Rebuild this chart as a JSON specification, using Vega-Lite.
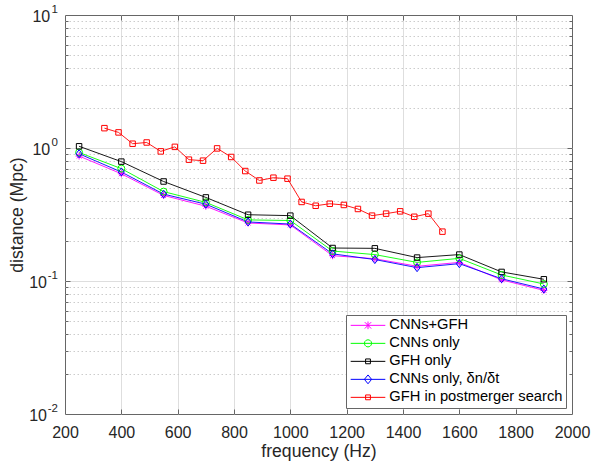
{
  "$schema": "https://vega.github.io/schema/vega-lite/v6.json",
  "width": 507,
  "height": 399,
  "autosize": {"type": "none"},
  "padding": {"left": 65, "top": 15, "right": 20, "bottom": 50},
  "background": "white",
  "config": {
    "font": "Liberation Sans",
    "view": {"stroke": "#666666", "strokeWidth": 1},
    "axis": {"labelFont": "Liberation Sans", "titleFont": "Liberation Sans", "labelColor": "#262626", "titleColor": "#262626", "labelFlush": false, "labelOverlap": false, "domain": false, "tickColor": "#666666", "tickWidth": 1}
  },
  "data": {
    "values": [
      {"series": "CNNs+GFH", "f": 250, "d": 0.87},
      {"series": "CNNs+GFH", "f": 400, "d": 0.64},
      {"series": "CNNs+GFH", "f": 550, "d": 0.44},
      {"series": "CNNs+GFH", "f": 700, "d": 0.365},
      {"series": "CNNs+GFH", "f": 850, "d": 0.273},
      {"series": "CNNs+GFH", "f": 1000, "d": 0.264},
      {"series": "CNNs+GFH", "f": 1150, "d": 0.155},
      {"series": "CNNs+GFH", "f": 1300, "d": 0.147},
      {"series": "CNNs+GFH", "f": 1450, "d": 0.129},
      {"series": "CNNs+GFH", "f": 1600, "d": 0.138},
      {"series": "CNNs+GFH", "f": 1750, "d": 0.102},
      {"series": "CNNs+GFH", "f": 1900, "d": 0.085},
      {"series": "CNNs only", "f": 250, "d": 0.925},
      {"series": "CNNs only", "f": 400, "d": 0.7},
      {"series": "CNNs only", "f": 550, "d": 0.47},
      {"series": "CNNs only", "f": 700, "d": 0.39},
      {"series": "CNNs only", "f": 850, "d": 0.288},
      {"series": "CNNs only", "f": 1000, "d": 0.285},
      {"series": "CNNs only", "f": 1150, "d": 0.168},
      {"series": "CNNs only", "f": 1300, "d": 0.158},
      {"series": "CNNs only", "f": 1450, "d": 0.138},
      {"series": "CNNs only", "f": 1600, "d": 0.148},
      {"series": "CNNs only", "f": 1750, "d": 0.111},
      {"series": "CNNs only", "f": 1900, "d": 0.095},
      {"series": "GFH only", "f": 250, "d": 1.03},
      {"series": "GFH only", "f": 400, "d": 0.79},
      {"series": "GFH only", "f": 550, "d": 0.56},
      {"series": "GFH only", "f": 700, "d": 0.425},
      {"series": "GFH only", "f": 850, "d": 0.315},
      {"series": "GFH only", "f": 1000, "d": 0.31},
      {"series": "GFH only", "f": 1150, "d": 0.177},
      {"series": "GFH only", "f": 1300, "d": 0.176},
      {"series": "GFH only", "f": 1450, "d": 0.15},
      {"series": "GFH only", "f": 1600, "d": 0.158},
      {"series": "GFH only", "f": 1750, "d": 0.117},
      {"series": "GFH only", "f": 1900, "d": 0.103},
      {"series": "CNNs only, δn/δt", "f": 250, "d": 0.905},
      {"series": "CNNs only, δn/δt", "f": 400, "d": 0.66},
      {"series": "CNNs only, δn/δt", "f": 550, "d": 0.45},
      {"series": "CNNs only, δn/δt", "f": 700, "d": 0.378},
      {"series": "CNNs only, δn/δt", "f": 850, "d": 0.278},
      {"series": "CNNs only, δn/δt", "f": 1000, "d": 0.268},
      {"series": "CNNs only, δn/δt", "f": 1150, "d": 0.16},
      {"series": "CNNs only, δn/δt", "f": 1300, "d": 0.145},
      {"series": "CNNs only, δn/δt", "f": 1450, "d": 0.126},
      {"series": "CNNs only, δn/δt", "f": 1600, "d": 0.135},
      {"series": "CNNs only, δn/δt", "f": 1750, "d": 0.104},
      {"series": "CNNs only, δn/δt", "f": 1900, "d": 0.087},
      {"series": "GFH in postmerger search", "f": 340, "d": 1.41},
      {"series": "GFH in postmerger search", "f": 390, "d": 1.31},
      {"series": "GFH in postmerger search", "f": 440, "d": 1.077},
      {"series": "GFH in postmerger search", "f": 490, "d": 1.1},
      {"series": "GFH in postmerger search", "f": 540, "d": 0.943},
      {"series": "GFH in postmerger search", "f": 590, "d": 1.02},
      {"series": "GFH in postmerger search", "f": 640, "d": 0.817},
      {"series": "GFH in postmerger search", "f": 690, "d": 0.803},
      {"series": "GFH in postmerger search", "f": 740, "d": 0.993},
      {"series": "GFH in postmerger search", "f": 790, "d": 0.856},
      {"series": "GFH in postmerger search", "f": 840, "d": 0.671},
      {"series": "GFH in postmerger search", "f": 890, "d": 0.57},
      {"series": "GFH in postmerger search", "f": 940, "d": 0.598},
      {"series": "GFH in postmerger search", "f": 990, "d": 0.588},
      {"series": "GFH in postmerger search", "f": 1040, "d": 0.393},
      {"series": "GFH in postmerger search", "f": 1090, "d": 0.368},
      {"series": "GFH in postmerger search", "f": 1140, "d": 0.381},
      {"series": "GFH in postmerger search", "f": 1190, "d": 0.373},
      {"series": "GFH in postmerger search", "f": 1240, "d": 0.348},
      {"series": "GFH in postmerger search", "f": 1290, "d": 0.31},
      {"series": "GFH in postmerger search", "f": 1340, "d": 0.321},
      {"series": "GFH in postmerger search", "f": 1390, "d": 0.334},
      {"series": "GFH in postmerger search", "f": 1440, "d": 0.304},
      {"series": "GFH in postmerger search", "f": 1490, "d": 0.321},
      {"series": "GFH in postmerger search", "f": 1540, "d": 0.235}
    ]
  },
  "resolve": {"axis": {"x": "independent", "y": "independent"}},
  "layer": [
    {
      "mark": {"type": "line", "strokeWidth": 0.9},
      "encoding": {
        "x": {"field": "f", "type": "quantitative", "scale": {"domain": [200, 2000], "nice": false, "zero": false},
          "axis": {"orient": "bottom", "values": [200, 400, 600, 800, 1000, 1200, 1400, 1600, 1800, 2000], "format": "d", "ticks": false, "grid": false, "labelPadding": 10, "labelFontSize": 16, "title": "frequency (Hz)", "titleFontSize": 17.6, "titleFontWeight": "normal", "titleY": 42, "titleBaseline": "alphabetic"}},
        "y": {"field": "d", "type": "quantitative", "scale": {"type": "log", "domain": [0.01, 10], "nice": false},
          "axis": {"orient": "left", "values": [0.01, 0.1, 1, 10], "labelExpr": "'10'", "ticks": false, "grid": false, "labelFontSize": 16, "labelAlign": "right", "labelBaseline": "middle", "labelPadding": {"condition": {"test": "datum.value < 1", "value": 18.5}, "value": 15.3}, "labelOffset": 1, "title": "distance (Mpc)", "titleFontSize": 17.6, "titleFontWeight": "normal", "titleX": -43, "titleBaseline": "alphabetic"}},
        "color": {"field": "series", "type": "nominal",
          "scale": {"domain": ["CNNs+GFH", "CNNs only", "GFH only", "CNNs only, δn/δt", "GFH in postmerger search"], "range": ["#ff00ff", "#00ff00", "#000000", "#0000ff", "#ff0000"]},
          "legend": {"title": null, "orient": "bottom-right", "offset": 6, "padding": 3, "symbolOffset": 11.65, "labelOffset": 14, "labelFont": "Liberation Sans", "labelFontSize": 14.7, "labelColor": "#000000", "labelLimit": 400, "rowPadding": 2, "fillColor": "white", "strokeColor": "#666666", "symbolSize": 64, "symbolStrokeWidth": 1, "symbolFillColor": "transparent", "labelExpr": "datum.label + '     '", "encode": {"symbols": {"update": {"fill": {"value": "transparent"}}}}}},
        "shape": {"field": "series", "type": "nominal",
          "scale": {"domain": ["CNNs+GFH", "CNNs only", "GFH only", "CNNs only, δn/δt", "GFH in postmerger search"],
            "range": [
              "M-4.33,0H4.33M0,-0.95V0.95M-0.8,-0.8L0.8,0.8M-0.8,0.8L0.8,-0.8",
              "M-4.33,0H4.33M0.9,0L0.779,0.45M0.779,0.45L0.45,0.779M0.45,0.779L0,0.9M0,0.9L-0.45,0.779M-0.45,0.779L-0.779,0.45M-0.779,0.45L-0.9,0M-0.9,0L-0.779,-0.45M-0.779,-0.45L-0.45,-0.779M-0.45,-0.779L0,-0.9M0,-0.9L0.45,-0.779M0.45,-0.779L0.779,-0.45M0.779,-0.45L0.9,0",
              "M-4.33,0H4.33M-0.6,-0.6H0.6M0.6,-0.6V0.6M0.6,0.6H-0.6M-0.6,0.6V-0.6",
              "M-4.33,0H4.33M0,-1.1L0.9,0M0.9,0L0,1.1M0,1.1L-0.9,0M-0.9,0L0,-1.1",
              "M-4.33,0H4.33M-0.6,-0.6H0.6M0.6,-0.6V0.6M0.6,0.6H-0.6M-0.6,0.6V-0.6"
            ]},
          "legend": {"title": null, "orient": "bottom-right", "offset": 6, "padding": 3, "symbolOffset": 11.65, "labelOffset": 14, "labelFont": "Liberation Sans", "labelFontSize": 14.7, "labelColor": "#000000", "labelLimit": 400, "rowPadding": 2, "fillColor": "white", "strokeColor": "#666666", "symbolSize": 64, "symbolStrokeWidth": 1, "symbolFillColor": "transparent", "labelExpr": "datum.label + '     '", "encode": {"symbols": {"update": {"fill": {"value": "transparent"}}}}}}
      }
    },
    {
      "transform": [{"filter": "datum.series == 'CNNs+GFH'"}],
      "mark": {"type": "point", "shape": "M-1,0H1M0,-1V1M-0.7,-0.7L0.7,0.7M-0.7,0.7L0.7,-0.7", "filled": false, "size": 49, "strokeWidth": 1, "color": "#ff00ff", "opacity": 1},
      "encoding": {
        "x": {"field": "f", "type": "quantitative", "axis": {"orient": "bottom", "values": [400, 600, 800, 1000, 1200, 1400, 1600, 1800], "labels": false, "grid": true, "gridColor": "#dedede", "ticks": true, "tickSize": -5, "title": null}},
        "y": {"field": "d", "type": "quantitative", "axis": {"orient": "left", "values": [0.01, 0.1, 1, 10], "labelExpr": "datum.value >= 5 ? '1' : datum.value >= 0.5 ? '0' : datum.value >= 0.05 ? '-1' : '-2'", "ticks": false, "grid": false, "labelFontSize": 11.5, "labelAlign": "right", "labelBaseline": "middle", "labelPadding": 7.5, "labelOffset": -5.5, "title": null}}
      }
    },
    {
      "transform": [{"filter": "datum.series == 'CNNs only'"}],
      "mark": {"type": "point", "shape": "circle", "filled": false, "size": 49, "strokeWidth": 1, "color": "#00ff00", "opacity": 1},
      "encoding": {
        "x": {"field": "f", "type": "quantitative", "axis": {"orient": "top", "values": [400, 600, 800, 1000, 1200, 1400, 1600, 1800], "labels": false, "grid": false, "ticks": true, "tickSize": -5, "title": null}},
        "y": {"field": "d", "type": "quantitative", "axis": {"orient": "left", "values": [0.1, 1], "labels": false, "grid": true, "gridColor": "#dedede", "ticks": true, "tickSize": -5, "title": null}}
      }
    },
    {
      "transform": [{"filter": "datum.series == 'GFH only'"}],
      "mark": {"type": "point", "shape": "square", "filled": false, "size": 30, "strokeWidth": 1, "color": "#000000", "opacity": 1},
      "encoding": {
        "x": {"field": "f", "type": "quantitative", "axis": null},
        "y": {"field": "d", "type": "quantitative", "axis": {"orient": "left", "values": [0.02, 0.03, 0.04, 0.05, 0.06, 0.07, 0.08, 0.09, 0.2, 0.3, 0.4, 0.5, 0.6, 0.7, 0.8, 0.9, 2, 3, 4, 5, 6, 7, 8, 9], "labels": false, "grid": true, "gridColor": "#cccccc", "gridDash": [1.5, 2.5], "ticks": true, "tickSize": -3, "title": null}}
      }
    },
    {
      "transform": [{"filter": "datum.series == 'CNNs only, δn/δt'"}],
      "mark": {"type": "point", "shape": "M0,-1.15L0.85,0L0,1.15L-0.85,0Z", "filled": false, "size": 49, "strokeWidth": 1, "color": "#0000ff", "opacity": 1},
      "encoding": {
        "x": {"field": "f", "type": "quantitative", "axis": null},
        "y": {"field": "d", "type": "quantitative", "axis": {"orient": "right", "values": [0.1, 1], "labels": false, "grid": false, "ticks": true, "tickSize": -5, "title": null}}
      }
    },
    {
      "transform": [{"filter": "datum.series == 'GFH in postmerger search'"}],
      "mark": {"type": "point", "shape": "square", "filled": false, "size": 30, "strokeWidth": 1, "color": "#ff0000", "opacity": 1},
      "encoding": {
        "x": {"field": "f", "type": "quantitative", "axis": null},
        "y": {"field": "d", "type": "quantitative", "axis": {"orient": "right", "values": [0.02, 0.03, 0.04, 0.05, 0.06, 0.07, 0.08, 0.09, 0.2, 0.3, 0.4, 0.5, 0.6, 0.7, 0.8, 0.9, 2, 3, 4, 5, 6, 7, 8, 9], "labels": false, "grid": false, "ticks": true, "tickSize": -3, "title": null}}
      }
    }
  ]
}
